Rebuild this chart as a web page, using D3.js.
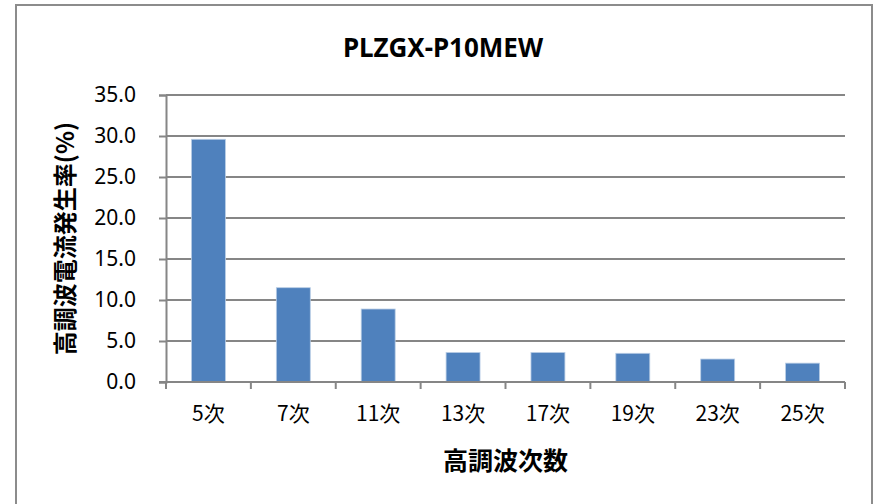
<!DOCTYPE html>
<html>
<head>
<meta charset="utf-8">
<script src="https://cdn.jsdelivr.net/npm/d3@7"></script>
<style>
  body { margin: 0; background: #fff; }
  svg { display: block; }
</style>
</head>
<body>
<div id="chart"></div>
<script>
var categories = ["5次", "7次", "11次", "13次", "17次", "19次", "23次", "25次"];
var values = [29.6, 11.5, 8.9, 3.6, 3.6, 3.5, 2.8, 2.3];
var yTicks = [0, 5, 10, 15, 20, 25, 30, 35];

var W = 873, H = 504;
var plot = { left: 166, right: 845, top: 95, bottom: 382 };

var svg = d3.select("#chart").append("svg")
  .attr("width", W)
  .attr("height", H);

// outer chart border
svg.append("rect")
  .attr("x", 16).attr("y", 5)
  .attr("width", 856).attr("height", 520)
  .attr("fill", "#fff")
  .attr("stroke", "#8c8c8c")
  .attr("stroke-width", 2);

var x = d3.scaleBand()
  .domain(categories)
  .range([plot.left, plot.right])
  .paddingInner(0.6)
  .paddingOuter(0.3);

var y = d3.scaleLinear().domain([0, 35]).range([plot.bottom, plot.top]);

// gridlines + y axis
var yAxis = d3.axisLeft(y)
  .tickValues(yTicks)
  .tickFormat(d3.format(".1f"))
  .tickSize(7)
  .tickPadding(23);

var gy = svg.append("g")
  .attr("transform", "translate(" + plot.left + ",0)")
  .call(yAxis);
gy.select(".domain").attr("stroke", "#868686").attr("stroke-width", 2);
gy.selectAll(".tick line").attr("stroke", "#868686").attr("stroke-width", 2);
gy.selectAll(".tick text")
  .attr("fill", "#000")
  .style("font-family", "'Noto Sans', sans-serif")
  .style("font-size", "21px");

svg.append("g").selectAll("line")
  .data(yTicks.slice(1))
  .enter().append("line")
  .attr("x1", plot.left).attr("x2", plot.right)
  .attr("y1", function (d) { return y(d); })
  .attr("y2", function (d) { return y(d); })
  .attr("stroke", "#868686")
  .attr("stroke-width", 2);

// bars
svg.append("g").selectAll("rect")
  .data(values)
  .enter().append("rect")
  .attr("x", function (d, i) { return x(categories[i]); })
  .attr("width", x.bandwidth())
  .attr("y", function (d) { return y(d); })
  .attr("height", function (d) { return y(0) - y(d); })
  .attr("fill", "#4f81bd")
  .attr("stroke", "#b9cde5")
  .attr("stroke-width", 0.8);

// x axis baseline and category boundary ticks
var xb = d3.scaleLinear().domain([0, categories.length]).range([plot.left, plot.right]);
var gx = svg.append("g");
gx.append("line")
  .attr("x1", plot.left - 7).attr("x2", plot.right)
  .attr("y1", y(0)).attr("y2", y(0))
  .attr("stroke", "#868686").attr("stroke-width", 2);
gx.selectAll(".btick")
  .data(d3.range(categories.length + 1))
  .enter().append("line")
  .attr("class", "btick")
  .attr("x1", function (d) { return xb(d); })
  .attr("x2", function (d) { return xb(d); })
  .attr("y1", y(0)).attr("y2", y(0) + 7)
  .attr("stroke", "#868686").attr("stroke-width", 2);

var xAxis = d3.axisBottom(x).tickSize(0).tickPadding(24);
var gxl = svg.append("g")
  .attr("transform", "translate(0," + y(0) + ")")
  .call(xAxis);
gxl.select(".domain").remove();
gxl.selectAll(".tick text")
  .attr("fill", "#000")
  .style("font-family", "'Noto Sans CJK JP', 'Noto Sans', sans-serif")
  .style("font-size", "21px");

// title
svg.append("text")
  .attr("x", 443).attr("y", 57)
  .attr("text-anchor", "middle")
  .style("font-family", "'Noto Sans', sans-serif")
  .style("font-weight", "bold")
  .style("font-size", "26px")
  .text("PLZGX-P10MEW");

// x axis title
svg.append("text")
  .attr("x", (plot.left + plot.right) / 2).attr("y", 470)
  .attr("text-anchor", "middle")
  .style("font-family", "'Noto Sans CJK JP', sans-serif")
  .style("font-weight", "bold")
  .style("font-size", "25px")
  .text("高調波次数");

// y axis title
svg.append("text")
  .attr("transform", "translate(74," + ((plot.top + plot.bottom) / 2) + ") rotate(-90)")
  .attr("text-anchor", "middle")
  .style("font-family", "'Noto Sans CJK JP', sans-serif")
  .style("font-weight", "bold")
  .style("font-size", "24px")
  .text("高調波電流発生率(%)");
</script>
</body>
</html>
